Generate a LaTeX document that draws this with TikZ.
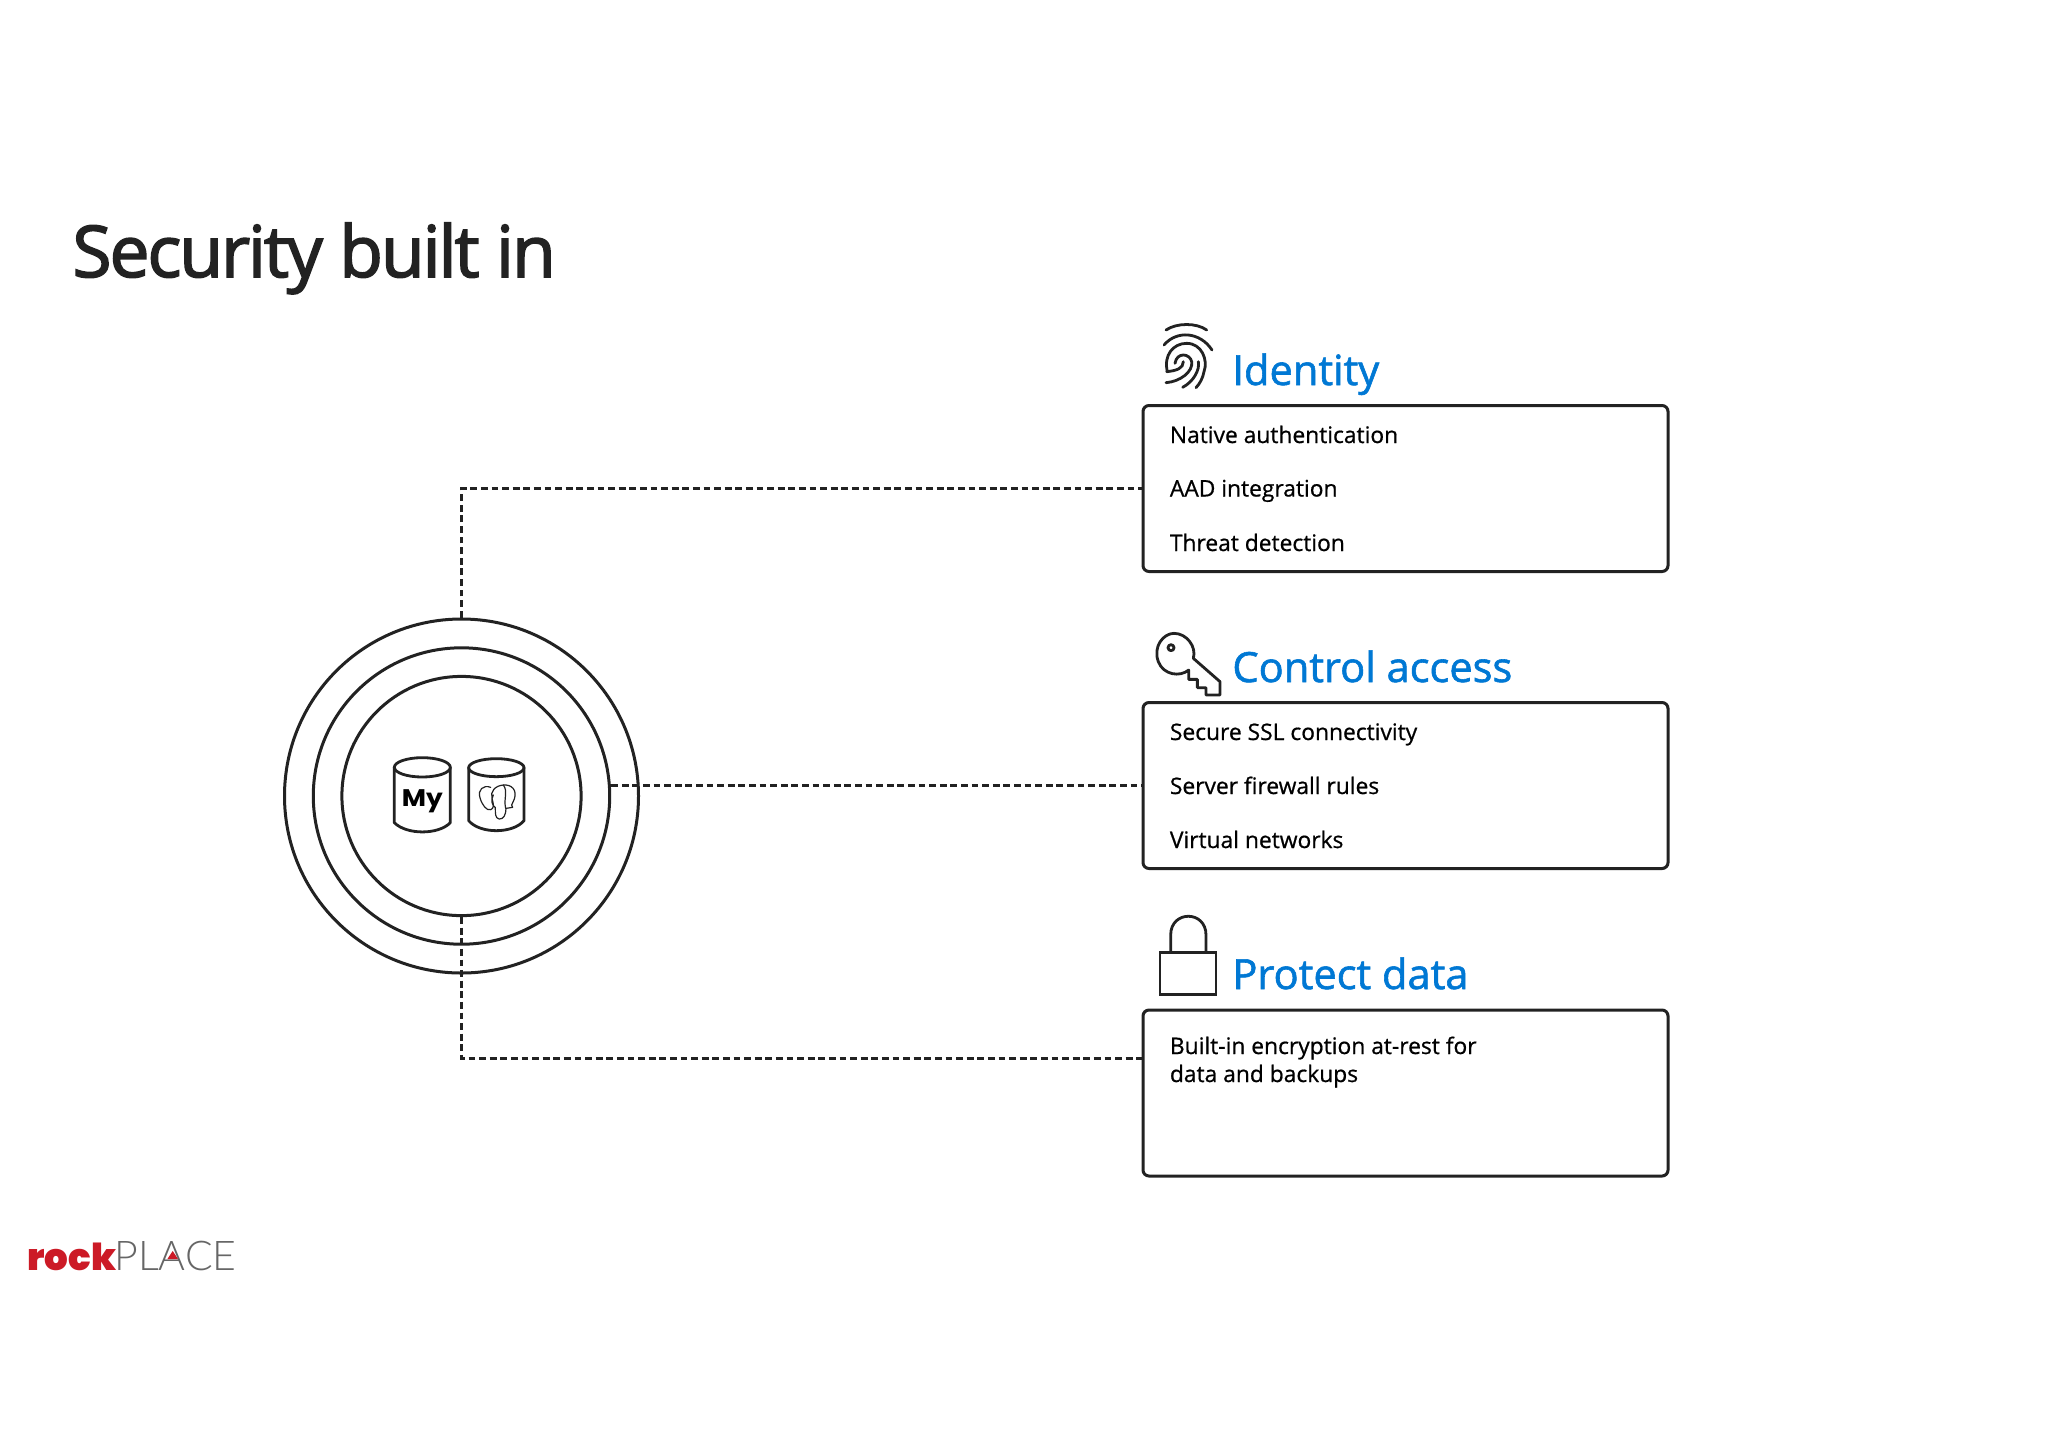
\documentclass[tikz,border=0pt]{standalone}
\usepackage{fontspec}
\usepackage{xcolor}
\setmainfont{Open Sans}
\newfontfamily\titlefont[FakeBold=2.2]{Open Sans}
\newfontfamily\bodyfont[FakeBold=0.7]{Open Sans}
\newfontfamily\headfont[FakeBold=1.4]{Open Sans}
\newfontfamily\logoheavy{Poppins Black}
\newfontfamily\logothin{Lato Light}
\newfontfamily\myfont{Poppins Bold}
\definecolor{inkdark}{HTML}{222222}
\definecolor{headblue}{HTML}{0078D4}
\definecolor{logored}{HTML}{CC1A26}
\definecolor{logogray}{HTML}{666666}
\usetikzlibrary{positioning,calc}
\tikzset{
    ring/.style={circle, draw=inkdark, line width=1.5pt, minimum size=#1, inner sep=0pt},
    infobox/.style={draw=inkdark, line width=1.5pt, rounded corners=3pt, minimum width=262.5pt, minimum height=83pt, inner sep=0pt},
    infotext/.style={anchor=base west, inner sep=0pt, font=\fontsize{11.4}{13.5}\selectfont\bodyfont, text=black},
    headtext/.style={anchor=base west, inner sep=0pt, font=\fontsize{20.8}{26}\selectfont\headfont, text=headblue},
    dashline/.style={draw=inkdark, line width=1.25pt, dash pattern=on 3.4pt off 1.9pt},
    iconline/.style={draw=inkdark, line width=1.4pt, line cap=round, line join=round},
    icon/.style={shift={(#1)}, scale=1/3}
}
\begin{document}
\begin{tikzpicture}[x=0.5pt, y=-0.5pt]
    \useasboundingbox[fill=white] (0,0) rectangle (2048,1447);

    % Title
    \node[anchor=base west, inner sep=0pt, text=inkdark] (title) at (72,277)
        {\fontsize{35.7}{40}\selectfont\titlefont\addfontfeatures{LetterSpace=-3}Security built in};

    % Rings
    \node[ring=177pt] (ringout) at (461.5,796) {};
    \node[ring=148.2pt] (ringmid) at (461.5,796) {};
    \node[ring=119.6pt] (ringin) at (461.5,796) {};

    % Boxes
    \node[infobox] (boxid) at (1405.5,488.5) {};
    \node[infobox] (boxctl) at (1405.5,785.5) {};
    \node[infobox] (boxdata) at (1405.5,1093) {};
    \coordinate (datain) at (1143,1058.5);

    % Connectors
    \draw[dashline] (ringout.north) |- (boxid.west);
    \draw[dashline] (ringmid.east |- boxctl.west) -- (boxctl.west);
    \draw[dashline] (ringin.south) |- (datain);

    % Headings
    \node[headtext] (headid) at (1232,385) {Identity};
    \node[headtext] (headctl) at (1232,682) {Control access};
    \node[headtext] (headdata) at (1232,989) {Protect data};

    % Box texts
    \foreach \i/\y/\t in {1/443/Native authentication, 2/496.5/AAD integration, 3/551/Threat detection} {
        \node[infotext] (iditem\i) at (1169.5,\y) {\t};
    }
    \foreach \i/\y/\t in {1/740/Secure SSL connectivity, 2/794/Server firewall rules, 3/848/Virtual networks} {
        \node[infotext] (ctlitem\i) at (1169.5,\y) {\t};
    }
    \foreach \i/\y/\t in {1/1054/Built-in encryption at-rest for, 2/1082/data and backups} {
        \node[infotext] (dataitem\i) at (1169.5,\y) {\t};
    }

    % Fingerprint
    \begin{scope}[icon={1130,300}]
        \draw[iconline] (108,90) .. controls (140,68) and (200,68) .. (230,90);
        \draw[iconline] (102,135) .. controls (140,90) and (210,95) .. (246,150);
        \draw[iconline] (112,215) .. controls (100,165) and (130,130) .. (170,130) .. controls (215,130) and (235,180) .. (222,215) .. controls (218,235) and (210,250) .. (198,263);
        \draw[iconline] (108,248) .. controls (150,245) and (190,215) .. (185,185) .. controls (180,160) and (140,155) .. (135,190);
        \draw[iconline] (158,262) .. controls (190,245) and (210,210) .. (205,185);
        \draw[iconline] (110,215) .. controls (140,212) and (160,205) .. (160,185);
    \end{scope}

    % Key
    \begin{scope}[icon={1130,620}]
        \draw[iconline] (176,150) .. controls (150,172) and (100,165) .. (85,125)
            .. controls (68,80) and (100,40) .. (132,40)
            .. controls (170,40) and (200,80) .. (190,115)
            -- (270,185) -- (270,225) -- (228,225) -- (228,203) -- (202,203) -- (202,178) -- (176,178) -- cycle;
        \draw[iconline] (123,83) circle (9);
    \end{scope}

    % Lock
    \begin{scope}[icon={1130,900}]
        \draw[iconline, line join=miter] (90,157) rectangle (258,283);
        \draw[iconline] (122,157) -- (122,105) .. controls (122,30) and (228,30) .. (228,105) -- (228,157);
    \end{scope}

    % Cylinders
    \begin{scope}[icon={370,730}]
        \draw[iconline] (157,112) ellipse (84 and 29);
        \draw[iconline] (73,112) -- (73,278) .. controls (110,315) and (205,315) .. (241,278) -- (241,112);
        \draw[iconline] (379,113) ellipse (83 and 27);
        \draw[iconline] (296,113) -- (296,272) .. controls (330,312) and (428,312) .. (462,272) -- (462,113);
        \node[inner sep=0pt, text=black] (mytext) at (157,214) {\fontsize{12}{12}\selectfont\myfont\scalebox{1.1}[1]{My}};
    \end{scope}

    % Elephant
    \begin{scope}[icon={470,775}]
        \draw[iconline, line width=0.6pt] (62,37) .. controls (40,28) and (22,45) .. (30,68) .. controls (36,90) and (50,108) .. (62,104) .. controls (72,100) and (72,90) .. (66,70) .. controls (60,50) and (75,32) .. (100,30) .. controls (125,28) and (142,45) .. (133,72) -- (125,90) -- (128,97) -- (108,100) .. controls (108,120) and (100,133) .. (88,132) .. controls (75,130) and (76,115) .. (76,98) .. controls (65,90) and (62,75) .. (70,60);
        \draw[iconline, line width=0.6pt] (100,30) .. controls (115,50) and (100,70) .. (107,100);
    \end{scope}

    % Logo
    \node[anchor=base west, inner sep=0pt, text=logored] (logorock) at (27,1270)
        {\fontsize{18.6}{20}\selectfont\logoheavy rock};
    \node[anchor=base west, inner sep=0pt, text=logogray] (logoplace) at (114,1270)
        {\fontsize{20.5}{20}\selectfont\logothin PLACE};
    \fill[logored] (172.7,1251) -- (178,1259) -- (167.4,1259) -- cycle;
\end{tikzpicture}
\end{document}
